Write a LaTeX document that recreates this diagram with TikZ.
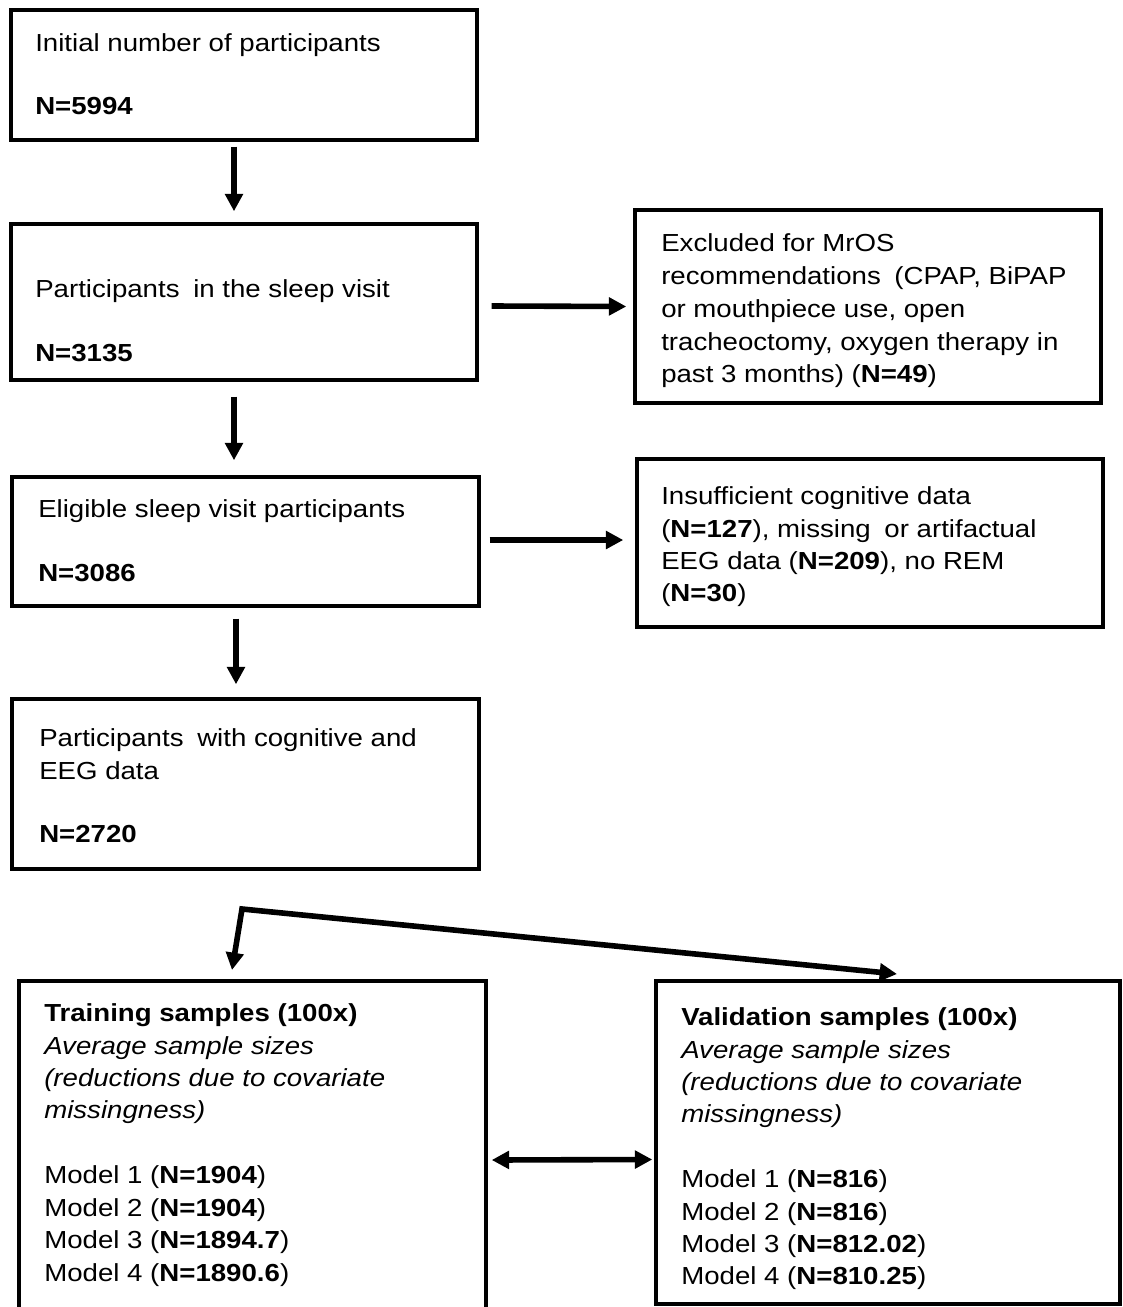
\documentclass[tikz,border=0pt]{standalone}
\usepackage{fontspec}
\setmainfont{Liberation Sans}[FakeStretch=1.12]
\usetikzlibrary{arrows.meta,fit,calc}
\newcommand{\xsp}{\hspace{4.5pt}}
\begin{document}
\begin{tikzpicture}[x=0.75pt,y=-0.75pt,
  box/.style={draw, line width=2.6pt, inner sep=0pt},
  arr/.style={line width=4.2pt, -{Triangle[length=13pt,width=13pt]}},
  dblarr/.style={line width=4.2pt, {Triangle[length=13pt,width=13pt]}-{Triangle[length=13pt,width=13pt]}},
  txt/.style={anchor=base west, inner sep=0pt, font=\fontsize{18.5}{24}\selectfont},
]
\useasboundingbox (0,0) rectangle (1122,1307);

% boxes
\node[box, fit={(11,10) (477,140)}] (b1) {};
\node[box, fit={(11,224) (477,380)}] (b2) {};
\node[box, fit={(635,210) (1101,403)}] (b3) {};
\node[box, fit={(12,477) (479,606)}] (b4) {};
\node[box, fit={(637,459) (1103,627)}] (b5) {};
\node[box, fit={(12,699) (479,869)}] (b6) {};
\node[box, fit={(19,981) (486,1312)}] (b7) {};
\node[box, fit={(656,981) (1120,1304)}] (b8) {};

% texts
\node[txt] (t1a) at (35,51) {Initial number of participants};
\node[txt] (t1b) at (35,114) {\textbf{N=5994}};

\node[txt] (t2a) at (35,297) {Participants\xsp{} in the sleep visit};
\node[txt] (t2b) at (35,361) {\textbf{N=3135}};

\node[txt] (t3a) at (661,251) {Excluded for MrOS};
\node[txt] (t3b) at (661,284) {recommendations\xsp{} (CPAP, BiPAP};
\node[txt] (t3c) at (661,317) {or mouthpiece use, open};
\node[txt] (t3d) at (661,350) {tracheoctomy, oxygen therapy in};
\node[txt] (t3e) at (661,382) {past 3 months) (\textbf{N=49})};

\node[txt] (t4a) at (38,517) {Eligible sleep visit participants};
\node[txt] (t4b) at (38,581) {\textbf{N=3086}};

\node[txt] (t5a) at (661,504) {Insufficient cognitive data};
\node[txt] (t5b) at (661,537) {(\textbf{N=127}), missing\xsp{} or artifactual};
\node[txt] (t5c) at (661,569) {EEG data (\textbf{N=209}), no REM};
\node[txt] (t5d) at (661,601) {(\textbf{N=30})};

\node[txt] (t6a) at (39,746) {Participants\xsp{} with cognitive and};
\node[txt] (t6b) at (39,779) {EEG data};
\node[txt] (t6c) at (39,842) {\textbf{N=2720}};

\node[txt] (t7a) at (44,1021) {\textbf{Training samples (100x)}};
\node[txt] (t7b) at (44,1054) {\itshape Average sample sizes};
\node[txt] (t7c) at (44,1086) {\itshape (reductions due to covariate};
\node[txt] (t7d) at (44,1118) {\itshape missingness)};
\node[txt] (t7e) at (44,1183) {Model 1 (\textbf{N=1904})};
\node[txt] (t7f) at (44,1216) {Model 2 (\textbf{N=1904})};
\node[txt] (t7g) at (44,1248) {Model 3 (\textbf{N=1894.7})};
\node[txt] (t7h) at (44,1281) {Model 4 (\textbf{N=1890.6})};

\node[txt] (t8a) at (681,1025) {\textbf{Validation samples (100x)}};
\node[txt] (t8b) at (681,1058) {\itshape Average sample sizes};
\node[txt] (t8c) at (681,1090) {\itshape (reductions due to covariate};
\node[txt] (t8d) at (681,1122) {\itshape missingness)};
\node[txt] (t8e) at (681,1187) {Model 1 (\textbf{N=816})};
\node[txt] (t8f) at (681,1220) {Model 2 (\textbf{N=816})};
\node[txt] (t8g) at (681,1252) {Model 3 (\textbf{N=812.02})};
\node[txt] (t8h) at (681,1284) {Model 4 (\textbf{N=810.25})};

% connectors
\draw[arr] ($(b1.south)+(-10,5)$) -- ($(b2.north)+(-10,-11)$);
\draw[arr] ($(b2.east)+(13,4)$) -- ($(b3.west)+(-7,0)$);
\draw[arr] ($(b2.south)+(-10,15)$) -- ($(b4.north)+(-11.5,-15)$);
\draw[arr] ($(b4.east)+(9,-1.5)$) -- ($(b5.west)+(-12,-3)$);
\draw[arr] ($(b4.south)+(-9.5,11)$) -- ($(b6.north)+(-9.5,-13)$);

\coordinate (split) at (242,909);
\coordinate (tipL) at (232,970);
\coordinate (tipR) at (897,974);
\draw[dblarr, line join=miter] (tipL) -- (split) -- (tipR);

\draw[dblarr] ($(b7.east)+(4,13.5)$) -- ($(b8.west)+(-2,17)$);
\end{tikzpicture}
\end{document}
